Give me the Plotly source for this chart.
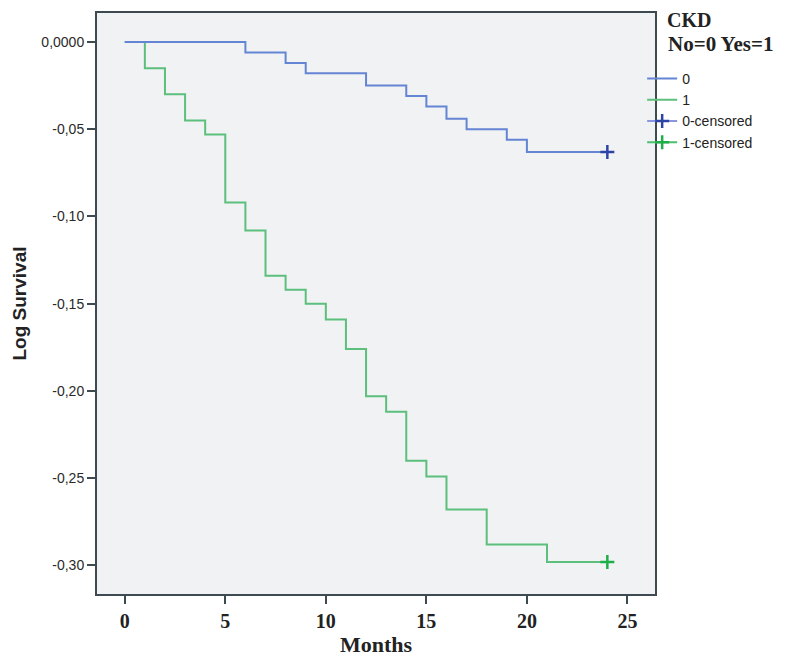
import plotly.graph_objects as go

# Data
months_0 = [0, 6, 8, 9, 12, 14, 15, 16, 17, 19, 20, 24]
logsurv_0 = [0.0, -0.006, -0.012, -0.018, -0.025, -0.031, -0.037, -0.044, -0.050, -0.056, -0.063, -0.063]

months_1 = [0, 1, 2, 3, 4, 5, 6, 7, 8, 9, 10, 11, 12, 13, 14, 15, 16, 18, 21, 24]
logsurv_1 = [0.0, -0.015, -0.030, -0.045, -0.053, -0.092, -0.108, -0.134, -0.142, -0.150,
             -0.159, -0.176, -0.203, -0.212, -0.240, -0.249, -0.268, -0.288, -0.298, -0.298]

censor_months_0 = [24]
censor_logsurv_0 = [-0.063]
censor_months_1 = [24]
censor_logsurv_1 = [-0.298]

x_ticks = [0, 5, 10, 15, 20, 25]
x_ticklabels = ["0", "5", "10", "15", "20", "25"]
y_ticks = [0.0, -0.05, -0.10, -0.15, -0.20, -0.25, -0.30]
y_ticklabels = ["0,0000", "-0,05", "-0,10", "-0,15", "-0,20", "-0,25", "-0,30"]

BLUE = "#6485d4"
GREEN = "#5cbf7c"
BLUE_C = "#2c44a6"
GREEN_C = "#1fae48"

fig = go.Figure()
fig.add_trace(go.Scatter(x=months_1, y=logsurv_1, mode="lines", line_shape="hv",
                         line=dict(color=GREEN, width=2), name="1", legendrank=2))
fig.add_trace(go.Scatter(x=months_0, y=logsurv_0, mode="lines", line_shape="hv",
                         line=dict(color=BLUE, width=2), name="0", legendrank=1))
fig.add_trace(go.Scatter(x=censor_months_0, y=censor_logsurv_0, mode="lines+markers",
                         line=dict(color="#8a96e0", width=2),
                         marker=dict(symbol="cross-thin", size=10, line=dict(color=BLUE_C, width=2.5)),
                         name="0-censored", legendrank=3))
fig.add_trace(go.Scatter(x=censor_months_1, y=censor_logsurv_1, mode="lines+markers",
                         line=dict(color="#4cc070", width=2),
                         marker=dict(symbol="cross-thin", size=10, line=dict(color=GREEN_C, width=2.5)),
                         name="1-censored", legendrank=4))

axis_line = "#3d4a50"
fig.update_layout(
    width=792, height=654,
    margin=dict(l=89, r=145, t=5, b=68),
    paper_bgcolor="white",
    plot_bgcolor="#f1f2f4",
    showlegend=True,
    legend=dict(x=0.977, y=0.914, xanchor="left", yanchor="top",
                font=dict(family="Liberation Sans, Arial", size=14, color="#222"),
                tracegroupgap=0, itemwidth=30, bgcolor="rgba(0,0,0,0)"),
    xaxis=dict(range=[-1.38, 26.37], tickvals=x_ticks,
               ticktext=["<b>%s</b>" % t for t in x_ticklabels],
               ticks="outside", ticklen=8, automargin=False,
               tickwidth=2, tickcolor=axis_line, showgrid=False, zeroline=False,
               showline=True, linecolor=axis_line, linewidth=2, mirror=True,
               tickfont=dict(family="Liberation Serif, Times New Roman", size=20, color="#222"),
               title=dict(text="<b>Months</b>", standoff=6,
                          font=dict(family="Liberation Serif, Times New Roman", size=22, color="#222"))),
    yaxis=dict(range=[-0.3164, 0.0166], tickvals=y_ticks, ticktext=y_ticklabels,
               ticks="outside", ticklen=8, tickwidth=2, tickcolor=axis_line, automargin=False,
               showgrid=False, zeroline=False,
               showline=True, linecolor=axis_line, linewidth=2, mirror=True,
               tickfont=dict(family="Liberation Sans, Arial", size=14, color="#2a2a2a"),
               title=dict(text="<b>Log Survival</b>", standoff=10,
                          font=dict(family="Liberation Sans, Arial", size=19, color="#222"))),
    annotations=[
        dict(text="<b>CKD</b>", xref="paper", yref="paper", x=1.02, y=1.0086,
             xanchor="left", yanchor="top", showarrow=False, borderpad=0,
             font=dict(family="Liberation Serif, Times New Roman", size=20, color="#222")),
        dict(text="<b>No=0 Yes=1</b>", xref="paper", yref="paper", x=1.02, y=0.947,
             xanchor="left", yanchor="middle", showarrow=False,
             font=dict(family="Liberation Serif, Times New Roman", size=21, color="#222")),
    ],
)

fig.write_html("out.html")
